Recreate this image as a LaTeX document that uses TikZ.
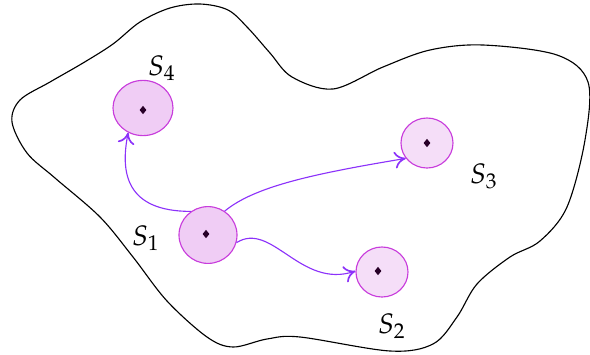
\documentclass[tikz,border=0pt]{standalone}
\usepackage{mathpazo}
\usepackage{tikz}
\usetikzlibrary{arrows.meta, shapes.geometric}
\definecolor{flowviolet}{RGB}{140,50,250}
\definecolor{setedge}{RGB}{200,60,220}
\definecolor{setfill}{RGB}{240,205,245}
\definecolor{setfilllight}{RGB}{245,222,248}
\definecolor{dotcol}{RGB}{40,0,40}
\tikzset{
  setdisk/.style={ellipse,draw=setedge,fill=setfill,inner sep=0pt},
  dotmark/.style={diamond,fill=dotcol,inner sep=0pt,minimum width=0.9mm,minimum height=1.1mm},
  flow/.style={-{To[length=4pt,width=6pt,line width=0.6pt]},draw=flowviolet}
}

\begin{document}
\begin{tikzpicture}[x=0.0125cm,y=-0.0125cm]
\useasboundingbox (0,0) rectangle (590,354);
% region boundary
\draw[black,thin] plot[smooth cycle,tension=0.55] coordinates {
  (200,4) (228,10) (248,28) (270,53) (292,77) (333,89) (383,67) (430,50) (483,45)
  (557,55) (588,82) (585,140) (567,207) (540,241) (510,257) (477,284)
  (457,317) (433,344) (390,351) (300,337) (267,339) (233,347) (207,337)
  (167,301) (133,257) (100,217) (55,178) (27,153) (12,122) (20,100)
  (50,82) (83,63) (113,44) (140,22) (170,8)};
% sets
\node[setdisk,minimum width=7.5mm,minimum height=6.9mm] (s4) at (143,108) {};
\node[setdisk,minimum width=7.25mm,minimum height=7.1mm] (s1) at (208,235) {};
\node[setdisk,fill=setfilllight,minimum width=6.5mm,minimum height=6.25mm] (s3) at (427,143) {};
\node[setdisk,fill=setfilllight,minimum width=6.5mm,minimum height=6.25mm] (s2) at (382,272) {};
\node[dotmark] (d4) at (143,110) {};
\node[dotmark] (d1) at (206,234) {};
\node[dotmark] (d3) at (427,143) {};
\node[dotmark] (d2) at (378,271) {};
% labels
\node (l4) at (162,68) {$S_4$};
\node (l1) at (146,238) {$S_1$};
\node (l3) at (484,176) {$S_3$};
\node (l2) at (392,326) {$S_2$};
% flows
\draw[flow] (s1.126) .. controls +(-65,0) and +(-8,40) .. (s4.-121);
\draw[flow] (s1.55) .. controls +(30,-25) and +(-90,15) .. (s3.-144);
\draw[flow] (s1.-15) .. controls +(35,-22) and +(-55,18) .. (s2.178);
\end{tikzpicture}
\end{document}
